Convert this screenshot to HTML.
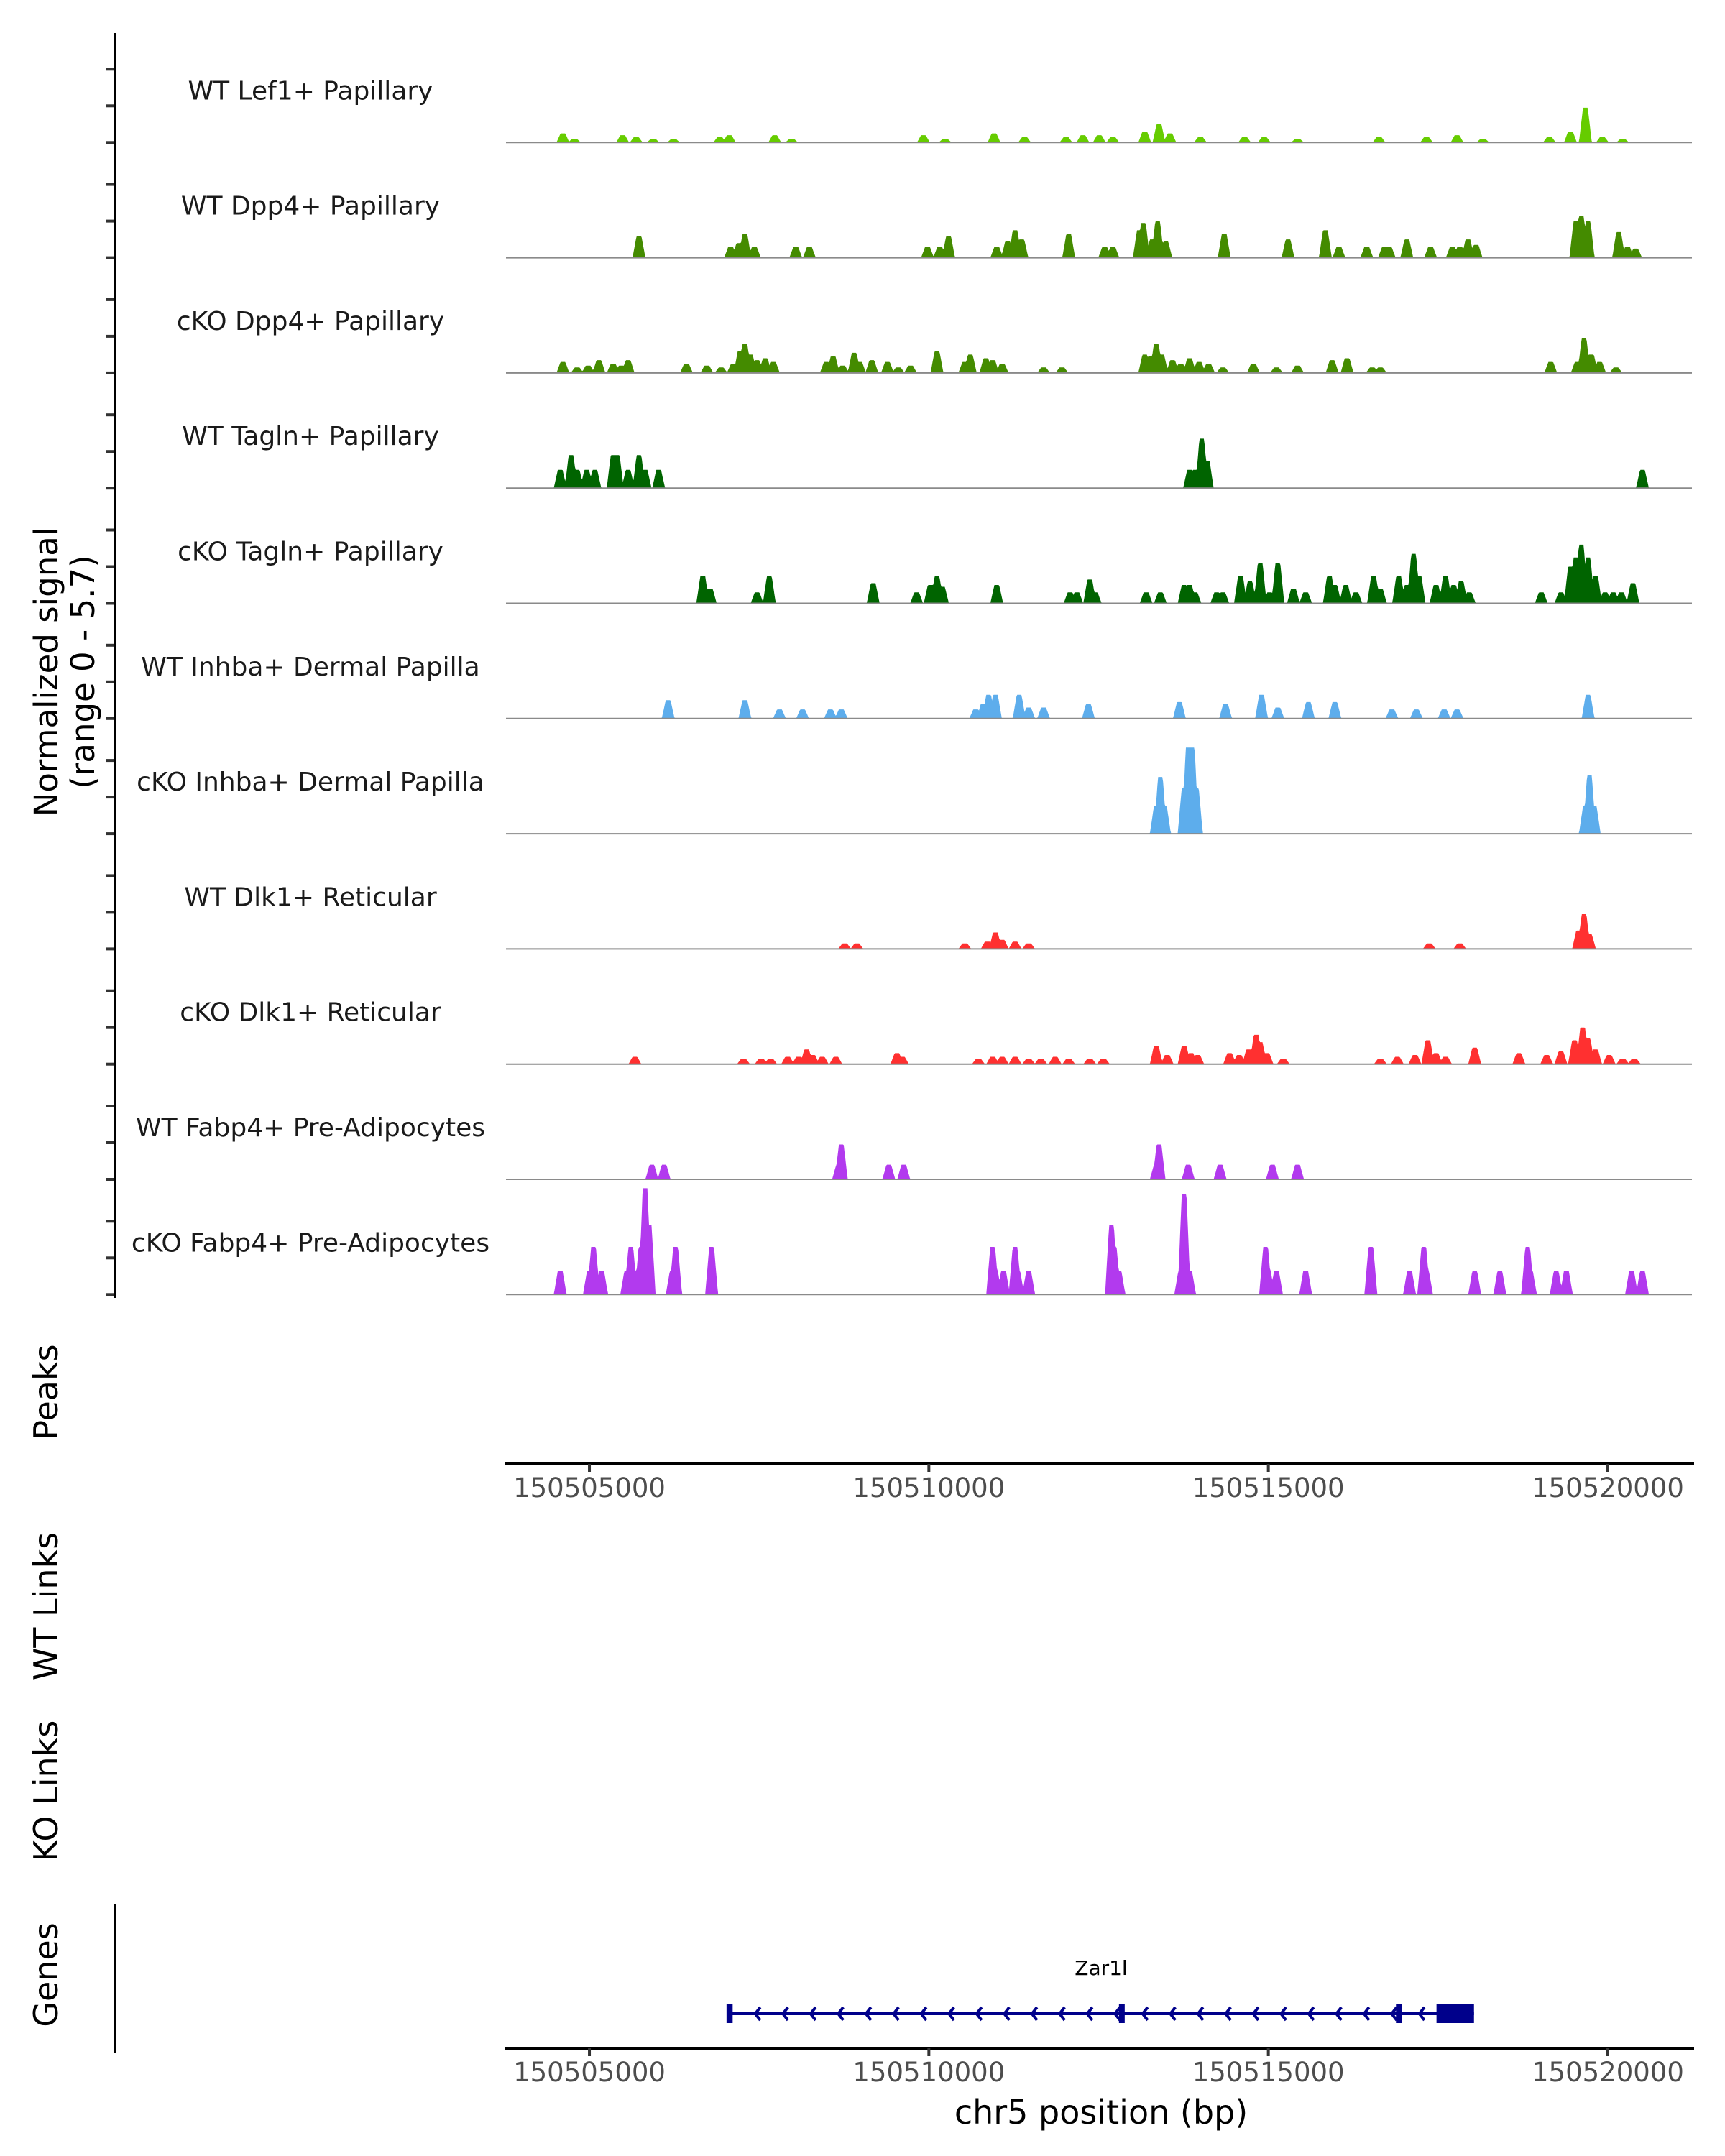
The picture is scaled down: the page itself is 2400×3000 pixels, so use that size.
<!DOCTYPE html>
<html><head><meta charset="utf-8"><style>
html,body{margin:0;padding:0;background:#fff;}
svg{display:block;font-family:"DejaVu Sans","Liberation Sans",sans-serif;}
</style></head><body>
<svg id="chart" xmlns="http://www.w3.org/2000/svg" width="2400" height="3000" viewBox="0 0 2400 3000">
<rect width="2400" height="3000" fill="#fff"/>
<g id="tracks"></g>
<g id="axes"></g>
</svg>
<script>
// ---- data (positions: kb offset from 150505000 bp; heights: normalized signal) ----
const origin = 150505000;
const regionStart = 150503814;
const regionEnd = 150521239;
const trackNames = ["WT Lef1+ Papillary","WT Dpp4+ Papillary","cKO Dpp4+ Papillary","WT Tagln+ Papillary","cKO Tagln+ Papillary","WT Inhba+ Dermal Papilla","cKO Inhba+ Dermal Papilla","WT Dlk1+ Reticular","cKO Dlk1+ Reticular","WT Fabp4+ Pre-Adipocytes","cKO Fabp4+ Pre-Adipocytes"];
const trackColors = ["#66cc00","#448b00","#448b00","#006400","#006400","#5dadec","#5dadec","#ff3030","#ff3030","#b23aee","#b23aee"];
const pos0 = [-0.39,-0.22,0.49,0.69,0.94,1.24,1.92,2.06,2.73,2.98,4.92,5.24,5.96,6.41,7.02,7.27,7.51,7.71,8.18,8.39,8.55,9.0,9.65,9.94,10.43,11.63,12.33,12.78,13.16,14.14,14.45,14.67,14.92,15.22];
const val0 = [0.5,0.2,0.4,0.3,0.2,0.2,0.3,0.4,0.4,0.2,0.4,0.2,0.5,0.3,0.3,0.4,0.4,0.3,0.6,1.0,0.5,0.3,0.3,0.3,0.2,0.3,0.3,0.4,0.2,0.3,0.6,1.9,0.3,0.2];
const pos1 = [0.73,2.08,2.20,2.29,2.43,3.04,3.24,4.98,5.16,5.29,6.0,6.16,6.27,6.37,7.06,7.59,7.71,8.10,8.16,8.29,8.37,8.49,9.35,10.29,10.84,11.04,11.45,11.71,11.78,12.04,12.39,12.71,12.82,12.94,13.06,14.53,14.61,14.71,15.16,15.29,15.41];
const val1 = [1.2,0.6,0.8,1.3,0.6,0.6,0.6,0.6,0.6,1.2,0.6,0.9,1.5,1.0,1.3,0.6,0.6,1.5,1.9,1.0,2.0,0.9,1.3,1.0,1.5,0.6,0.6,0.6,0.6,1.0,0.6,0.6,0.6,1.0,0.7,2.0,2.3,2.0,1.4,0.6,0.5];
const pos2 = [-0.39,-0.18,-0.02,0.14,0.35,0.47,0.57,1.43,1.73,1.94,2.12,2.22,2.29,2.37,2.47,2.59,2.71,3.49,3.59,3.73,3.90,3.98,4.16,4.39,4.55,4.73,5.12,5.53,5.61,5.84,5.94,6.08,6.69,6.96,8.18,8.27,8.35,8.43,8.59,8.71,8.84,8.98,9.12,9.33,9.78,10.12,10.43,10.94,11.16,11.53,11.65,14.16,14.55,14.65,14.76,14.88,15.12];
const val2 = [0.6,0.3,0.4,0.7,0.5,0.4,0.7,0.5,0.4,0.3,0.5,1.2,1.6,1.0,0.7,0.8,0.6,0.6,0.9,0.4,1.1,0.6,0.7,0.6,0.3,0.4,1.2,0.6,1.0,0.8,0.7,0.5,0.3,0.3,1.0,0.9,1.6,1.0,0.7,0.5,0.8,0.6,0.5,0.3,0.5,0.3,0.4,0.7,0.8,0.3,0.3,0.6,0.6,1.9,1.0,0.6,0.3];
const pos3 = [-0.43,-0.27,-0.18,-0.04,0.08,0.35,0.41,0.57,0.73,0.82,1.02,8.84,8.92,9.02,9.10,15.51];
const val3 = [1.0,1.8,1.0,1.0,1.0,1.8,1.8,1.0,1.8,1.0,1.0,1.0,1.0,2.7,1.5,1.0];
const pos4 = [1.67,1.78,2.47,2.65,4.18,4.82,5.02,5.12,5.20,6.0,7.08,7.18,7.37,7.45,8.20,8.41,8.76,8.84,8.92,9.24,9.33,9.59,9.73,9.88,10.02,10.14,10.37,10.55,10.90,10.98,11.14,11.29,11.55,11.65,11.92,12.04,12.14,12.22,12.47,12.61,12.73,12.84,12.96,14.02,14.31,14.45,14.53,14.61,14.71,14.82,14.96,15.08,15.20,15.37];
const val4 = [1.5,0.8,0.6,1.5,1.1,0.6,1.0,1.5,0.9,1.0,0.6,0.6,1.3,0.6,0.6,0.6,1.0,1.0,0.6,0.6,0.6,1.5,1.2,2.2,0.6,2.2,0.8,0.6,1.5,1.0,1.0,0.6,1.5,0.8,1.5,1.0,2.7,1.5,1.0,1.5,1.0,1.2,0.6,0.6,0.6,2.0,2.5,3.2,2.5,1.5,0.6,0.6,0.6,1.1];
const pos5 = [1.16,2.29,2.80,3.14,3.55,3.71,5.69,5.80,5.88,5.98,6.33,6.47,6.69,7.35,8.69,9.37,9.90,10.14,10.59,10.98,11.82,12.18,12.59,12.78,14.71];
const val5 = [1.0,1.0,0.5,0.5,0.5,0.5,0.5,0.8,1.3,1.3,1.3,0.6,0.6,0.8,0.9,0.8,1.3,0.6,0.9,0.9,0.5,0.5,0.5,0.5,1.3];
const pos6 = [8.35,8.41,8.47,8.76,8.82,8.88,8.94,14.67,14.73,14.80];
const val6 = [1.5,3.1,1.5,2.5,4.7,4.7,2.5,1.5,3.2,1.5];
const pos7 = [3.76,3.94,5.53,5.86,5.98,6.08,6.27,6.47,12.37,12.82,14.57,14.65,14.73];
const val7 = [0.3,0.3,0.3,0.4,0.9,0.5,0.4,0.3,0.3,0.3,1.0,1.9,0.8];
const pos8 = [0.67,2.27,2.53,2.67,2.92,3.08,3.20,3.29,3.43,3.63,4.53,4.61,5.73,5.94,6.08,6.27,6.47,6.65,6.86,7.06,7.37,7.57,8.35,8.51,8.76,8.86,8.96,9.43,9.57,9.71,9.82,9.88,9.98,10.22,11.65,11.90,12.16,12.35,12.47,12.61,13.04,13.69,14.10,14.31,14.51,14.63,14.71,14.82,15.02,15.22,15.39];
const val8 = [0.4,0.3,0.3,0.3,0.4,0.4,0.8,0.5,0.4,0.4,0.6,0.4,0.3,0.4,0.4,0.4,0.3,0.3,0.4,0.3,0.3,0.3,1.0,0.5,1.0,0.6,0.5,0.6,0.5,0.8,1.6,1.2,0.6,0.3,0.3,0.4,0.5,1.3,0.6,0.4,0.9,0.6,0.5,0.7,1.3,2.0,1.4,0.8,0.5,0.3,0.3];
const pos9 = [0.92,1.10,3.67,3.71,4.41,4.63,8.35,8.39,8.82,9.29,10.06,10.43];
const val9 = [0.8,0.8,0.8,1.9,0.8,0.8,0.8,1.9,0.8,0.8,0.8,0.8];
const pos10 = [-0.43,0,0.06,0.18,0.55,0.61,0.69,0.76,0.82,0.88,1.22,1.27,1.80,5.94,5.98,6.10,6.27,6.31,6.47,7.69,7.73,7.80,8.71,8.76,8.84,9.96,10.0,10.12,10.55,11.51,12.08,12.29,12.33,13.04,13.41,13.82,13.86,14.24,14.39,15.35,15.51];
const val10 = [1.3,1.3,2.6,1.3,1.3,2.6,1.3,2.6,5.8,3.8,1.3,2.6,2.6,2.6,1.3,1.3,2.6,1.3,1.3,3.8,2.6,1.3,1.3,5.5,1.3,2.6,1.3,1.3,1.3,2.6,1.3,2.6,1.3,1.3,1.3,2.6,1.3,1.3,1.3,1.3,1.3];
const trackPos = [pos0,pos1,pos2,pos3,pos4,pos5,pos6,pos7,pos8,pos9,pos10];
const trackVals = [val0,val1,val2,val3,val4,val5,val6,val7,val8,val9,val10];
const xTicks = [150505000,150510000,150515000,150520000];
const geneName = "Zar1l";
const geneStart = 150507072;
const geneEnd = 150518029;
const exonStarts = [150507020,150512800,150516880,150517477];
const exonEnds = [150507110,150512850,150516930,150518029];

// ---- scales ----
const plotL = 708, plotR = 2354;
const trackTop0 = 38, trackH = 160.3, unitPx = 25.5;
function xs(bp){ return plotL + (bp - regionStart) / (regionEnd - regionStart) * (plotR - plotL); }
function baseY(i){ return trackTop0 + trackH * (i + 1); }
function ys(i, v){ return baseY(i) - v * unitPx; }

const NS = "http://www.w3.org/2000/svg";
function mk(tag, attrs, parent){ const e = document.createElementNS(NS, tag); for (const k in attrs) e.setAttribute(k, attrs[k]); parent.appendChild(e); return e; }
const tracksG = document.getElementById('tracks');
const axesG = document.getElementById('axes');

const binBp = 12, halfW = 95, flat = 35;
for (let i = 0; i < trackNames.length; i++) {
  const g = mk('g', {}, tracksG);
  
  
  const nb = Math.ceil((regionEnd - regionStart) / binBp);
  const cov = new Array(nb + 1).fill(0);
  const P = trackPos[i], V = trackVals[i];
  for (let k = 0; k < P.length; k++) {
    const c = origin + P[k] * 1000;
    for (let b = 0; b <= nb; b++) {
      const bp = regionStart + b * binBp;
      const d = Math.abs(bp - c);
      if (d > halfW) continue;
      const f = d <= flat ? 1 : 1 - (d - flat) / (halfW - flat);
      cov[b] = Math.max(cov[b], V[k] * f);
    }
  }
  let d = 'M' + xs(regionStart) + ',' + baseY(i);
  for (let b = 0; b <= nb; b++) d += ' L' + xs(regionStart + b * binBp).toFixed(1) + ',' + ys(i, cov[b]).toFixed(1);
  d += ' L' + xs(regionEnd) + ',' + baseY(i) + ' Z';
  const area = mk('path', { d: d, fill: trackColors[i], stroke: 'none' }, g);
  
  
  const bl = mk('line', { x1: plotL - 4, x2: plotR, y1: baseY(i), y2: baseY(i), stroke: '#8a8a8a', 'stroke-width': 2 }, g);
  
  
  const lab = mk('text', { x: 432, y: baseY(i) - 60, 'text-anchor': 'middle', 'font-size': 36, fill: '#1a1a1a' }, g);
  lab.textContent = trackNames[i];
  
  
  [0, 2, 4].forEach(t => {
    const tk = mk('line', { x1: 148, x2: 160, y1: ys(i, t), y2: ys(i, t), stroke: '#333', 'stroke-width': 4 }, g);
    
    
  });
}
let ax = mk('line', { x1: 160, x2: 160, y1: 46, y2: 1806, stroke: '#000', 'stroke-width': 4 }, axesG);


let yt = mk('text', { transform: 'translate(80,935) rotate(-90)', 'text-anchor': 'middle', 'font-size': 45, fill: '#000' }, axesG);
yt.textContent = 'Normalized signal';


let yt2 = mk('text', { transform: 'translate(131,935) rotate(-90)', 'text-anchor': 'middle', 'font-size': 45, fill: '#000' }, axesG);
yt2.textContent = '(range 0 - 5.7)';



function sideLabel(txt, cy, name){
  const t = mk('text', { transform: 'translate(80,' + cy + ') rotate(-90)', 'text-anchor': 'middle', 'font-size': 46, fill: '#000' }, axesG);
  t.textContent = txt;
  
  
}
sideLabel('Peaks', 1937, 'peaks-label');
sideLabel('WT Links', 2235, 'wt-links-label');
sideLabel('KO Links', 2492, 'ko-links-label');
sideLabel('Genes', 2748, 'genes-label');

function xAxis(y, name){
  const g = mk('g', {}, axesG);
  
  
  const l = mk('line', { x1: 703, x2: plotR + 3, y1: y, y2: y, stroke: '#000', 'stroke-width': 4 }, g);
  
  
  xTicks.forEach(t => {
    const tk = mk('line', { x1: xs(t), x2: xs(t), y1: y, y2: y + 11, stroke: '#333', 'stroke-width': 4 }, g);
    
    
    const tl = mk('text', { x: xs(t), y: y + 46, 'text-anchor': 'middle', 'font-size': 37, fill: '#4d4d4d' }, g);
    tl.textContent = String(t);
    
    
  });
}
xAxis(2037, 'peaks-x-axis');
xAxis(2850, 'genes-x-axis');
let xt = mk('text', { x: 1532, y: 2955, 'text-anchor': 'middle', 'font-size': 46, fill: '#000' }, axesG);
xt.textContent = 'chr5 position (bp)';


let gl = mk('line', { x1: 160, x2: 160, y1: 2650, y2: 2856, stroke: '#000', 'stroke-width': 4 }, axesG);



const geneG = mk('g', {}, axesG);


const gy = 2802;
let gline = mk('line', { x1: xs(geneStart), x2: xs(geneEnd), y1: gy, y2: gy, stroke: '#00008b', 'stroke-width': 4 }, geneG);


for (let x = xs(geneStart) + 35; x < xs(exonStarts[3]) - 10; x += 38.5) {
  const ch = mk('polyline', { points: (x + 7) + ',' + (gy - 9) + ' ' + x + ',' + gy + ' ' + (x + 7) + ',' + (gy + 9), fill: 'none', stroke: '#00008b', 'stroke-width': 4 }, geneG);
  
  
}
for (let k = 0; k < exonStarts.length; k++) {
  const x1 = xs(exonStarts[k]), x2 = xs(exonEnds[k]);
  const ex = mk('rect', { x: x1, y: gy - 13, width: Math.max(x2 - x1, 8), height: 26, fill: '#00008b' }, geneG);
  
  
}
let gn = mk('text', { x: 1532, y: 2748, 'text-anchor': 'middle', 'font-size': 28, fill: '#000' }, geneG);
gn.textContent = geneName;


</script>
</body></html>
